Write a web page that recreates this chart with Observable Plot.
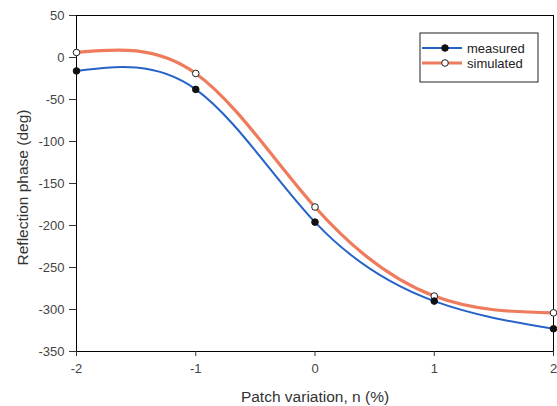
<!DOCTYPE html>
<html>
<head>
<meta charset="utf-8">
<script src="https://cdn.jsdelivr.net/npm/d3@7"></script>
<script src="https://cdn.jsdelivr.net/npm/@observablehq/plot@0.6"></script>
<style>
  html, body { margin: 0; padding: 0; background: #fff; }
  #chart { position: relative; width: 557px; height: 406px; }
</style>
</head>
<body>
<div id="chart"></div>
<script>
const xValues = [-2, -1, 0, 1, 2];
const measured = [-16, -38, -196, -290, -323];
const simulated = [6, -19, -178, -284, -304];
const xTicks = [-2, -1, 0, 1, 2];
const yTicks = [-350, -300, -250, -200, -150, -100, -50, 0, 50];
const seriesNames = ["measured", "simulated"];
const seriesColors = ["#2563c9", "#ee7c5c"];

const dataM = xValues.map((x, i) => ({x, y: measured[i]}));
const dataS = xValues.map((x, i) => ({x, y: simulated[i]}));

const font = "'Liberation Sans', Arial, sans-serif";
const fmt = d => String(d);

const chart = Plot.plot({
  width: 557,
  height: 406,
  marginLeft: 76,
  marginRight: 4,
  marginTop: 15,
  marginBottom: 55,
  style: {fontFamily: font, fontSize: "13px", color: "#333", background: "#fff"},
  x: {domain: [-2, 2], ticks: xTicks, label: null},
  y: {domain: [-350, 50], ticks: yTicks, label: null},
  marks: [
    Plot.frame({stroke: "#000", strokeWidth: 1}),
    Plot.axisX({ticks: xTicks, tickFormat: fmt, tickSize: 5, tickPadding: 7, stroke: "#333", fill: "#444", label: "Patch variation, n (%)", labelAnchor: "center", labelOffset: 50, labelArrow: "none"}),
    Plot.axisY({ticks: yTicks, tickFormat: fmt, tickSize: 7, tickPadding: 5, stroke: "#333", fill: "#444", label: "Reflection phase (deg)", labelAnchor: "center", labelOffset: 60, labelArrow: "none"}),
    Plot.line(dataS, {x: "x", y: "y", stroke: seriesColors[1], strokeWidth: 3.2, curve: "natural"}),
    Plot.line(dataM, {x: "x", y: "y", stroke: seriesColors[0], strokeWidth: 2, curve: "natural"}),
    Plot.dot(dataS, {x: "x", y: "y", r: 3.3, fill: "#fff", stroke: "#222", strokeWidth: 1}),
    Plot.dot(dataM, {x: "x", y: "y", r: 3.3, fill: "#111", stroke: "#111", strokeWidth: 1})
  ]
});

document.getElementById("chart").appendChild(chart);

const svg = d3.select(chart);
svg.selectAll('g[aria-label="x-axis label"] text, g[aria-label="y-axis label"] text')
  .attr("font-size", 15.5).attr("fill", "#333");
const yl = svg.select('g[aria-label="y-axis label"]');
yl.attr("transform", "translate(0,4) " + (yl.attr("transform") || ""));

// Legend box (drawn inside the SVG)
const lg = svg.append("g").attr("transform", "translate(420,33)");
lg.append("rect").attr("width", 118).attr("height", 49).attr("fill", "#fff").attr("stroke", "#222").attr("stroke-width", 1);
seriesNames.forEach((name, i) => {
  const yy = 15 + i * 15;
  lg.append("line").attr("x1", 2).attr("x2", 42).attr("y1", yy).attr("y2", yy)
    .attr("stroke", seriesColors[i]).attr("stroke-width", i === 0 ? 2 : 3.2);
  lg.append("circle").attr("cx", 25).attr("cy", yy).attr("r", 3.3)
    .attr("fill", i === 0 ? "#111" : "#fff").attr("stroke", i === 0 ? "#111" : "#222");
  lg.append("text").attr("x", 47).attr("y", yy).attr("dy", "0.35em")
    .attr("text-anchor", "start")
    .attr("font-family", font).attr("font-size", 13).attr("fill", "#222").text(name);
});
</script>
</body>
</html>
